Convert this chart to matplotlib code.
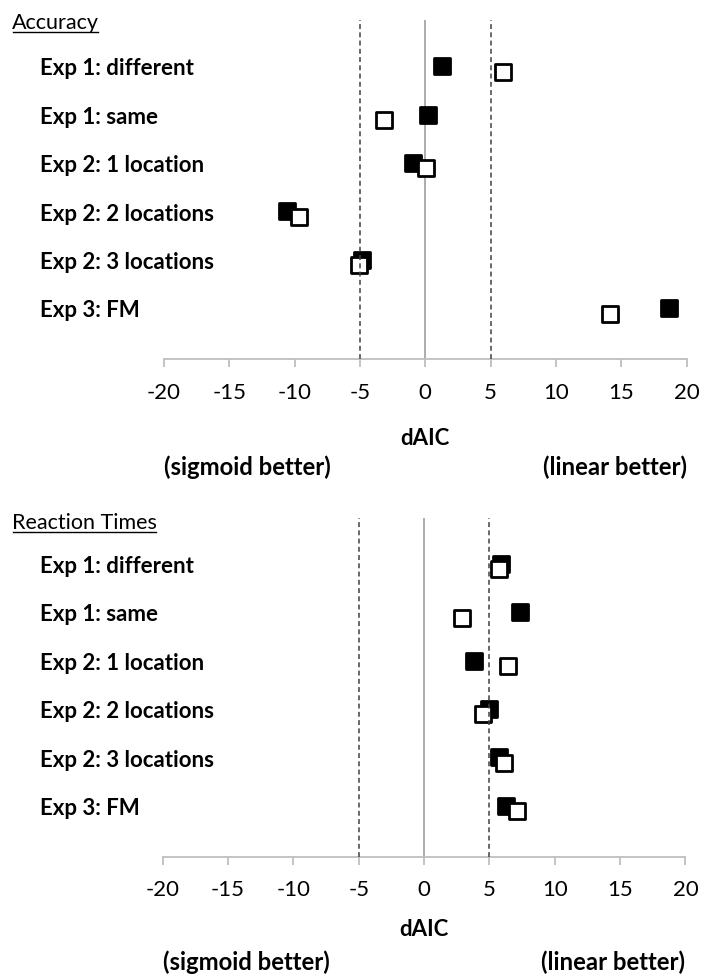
"""Two-panel dAIC dot chart: sigmoid vs linear fits for accuracy and reaction times."""

import matplotlib

matplotlib.use("Agg")
import matplotlib.pyplot as plt
from matplotlib.lines import Line2D
from matplotlib.markers import MarkerStyle

conditions = [
    "Exp 1: different",
    "Exp 1: same",
    "Exp 2: 1 location",
    "Exp 2: 2 locations",
    "Exp 2: 3 locations",
    "Exp 3: FM",
]
acc_filled = [1.24, 0.21, -0.93, -10.6, -4.88, 18.65]
acc_open = [5.95, -3.18, 0.04, -9.68, -5.07, 14.12]
rt_filled = [5.85, 7.35, 3.85, 5.0, 5.77, 6.26]
rt_open = [5.7, 2.93, 6.41, 4.49, 6.13, 7.1]
xticks = [-20, -15, -10, -5, 0, 5, 10, 15, 20]
thresholds = [-5, 5]

W, H = 702, 974
FONT = ["Lato", "DejaVu Sans"]
AXIS_GREY = "#bfbfbf"
ZERO_GREY = "#a6a6a6"
DASH_GREY = "#404040"
OFFSET = 0.055  # vertical nudge between the two series, in row units

plt.rcParams["font.family"] = FONT
fig = plt.figure(figsize=(W / 100, H / 100), dpi=100, facecolor="white")

square = MarkerStyle("s", joinstyle="round")


def px(v):
    return v * 0.72


def panel(left_px, top_px, axis_px, title, title_y, filled, empty, offs):
    ax = fig.add_axes(
        [left_px / W, 1 - axis_px / H, 522.6 / W, (axis_px - top_px) / H]
    )
    rows = list(range(len(conditions)))
    ax.set_xlim(-20, 20)
    ax.set_ylim(len(conditions), -1)

    for side in ("top", "right", "left"):
        ax.spines[side].set_visible(False)
    ax.spines["bottom"].set_color(AXIS_GREY)
    ax.spines["bottom"].set_linewidth(1.3)
    ax.set_yticks([])
    ax.set_xticks(xticks, [str(t) for t in xticks])
    ax.tick_params(axis="x", length=px(7.5), width=1.3, color=AXIS_GREY,
                   labelsize=16, pad=px(offs[0]), labelcolor="black")

    ax.axvline(0, color=ZERO_GREY, lw=1.3, zorder=1)
    for t in thresholds:
        ax.axvline(t, color=DASH_GREY, lw=1.1, dashes=(3.2, 2.2), zorder=5)

    ax.plot(filled, [r - OFFSET for r in rows], linestyle="none", marker=square,
            ms=11.5, mfc="black", mec="black", mew=2.0, zorder=3, clip_on=False)
    ax.plot(empty, [r + OFFSET for r in rows], linestyle="none", marker=square,
            ms=11.5, mfc="white", mec="black", mew=2.0, zorder=4, clip_on=False)

    for r, name in zip(rows, conditions):
        ax.annotate(name, xy=(40 / W, r), xycoords=("figure fraction", "data"),
                    ha="left", va="center", fontsize=16, fontweight="bold")

    fig.text(12 / W, 1 - title_y / H, title, fontsize=15.5, ha="left",
             va="baseline")

    for label, x, ha, dy, size in [("dAIC", 0, "center", offs[1], 16),
                                   ("(sigmoid better)", -20, "left", offs[2], 17.2),
                                   ("(linear better)", 20, "right", offs[2], 17.2)]:
        ax.annotate(label, xy=(x, 0), xycoords=("data", "axes fraction"),
                    xytext=(0, -px(dy)), textcoords="offset points",
                    ha=ha, va="center", fontsize=size, fontweight="bold")
    return ax


panel(164, 20.5, 359.3, "Accuracy", 29, acc_filled, acc_open, (16, 79, 108))
panel(162.8, 518, 857, "Reaction Times", 529, rt_filled, rt_open, (16, 73, 105))

# underline the panel titles
fig.canvas.draw()
renderer = fig.canvas.get_renderer()
for txt in list(fig.texts):
    bb = txt.get_window_extent(renderer)
    x0, _ = fig.transFigure.inverted().transform((bb.x0, 0))
    x1, _ = fig.transFigure.inverted().transform((bb.x1, 0))
    _, yb = txt.get_position()
    yline = yb - 2.6 / H
    fig.add_artist(Line2D([x0 + 1 / W, x1 - 1 / W], [yline, yline],
                          transform=fig.transFigure, color="black", lw=1.0))

fig.savefig("out.png", dpi=100, facecolor="white")
